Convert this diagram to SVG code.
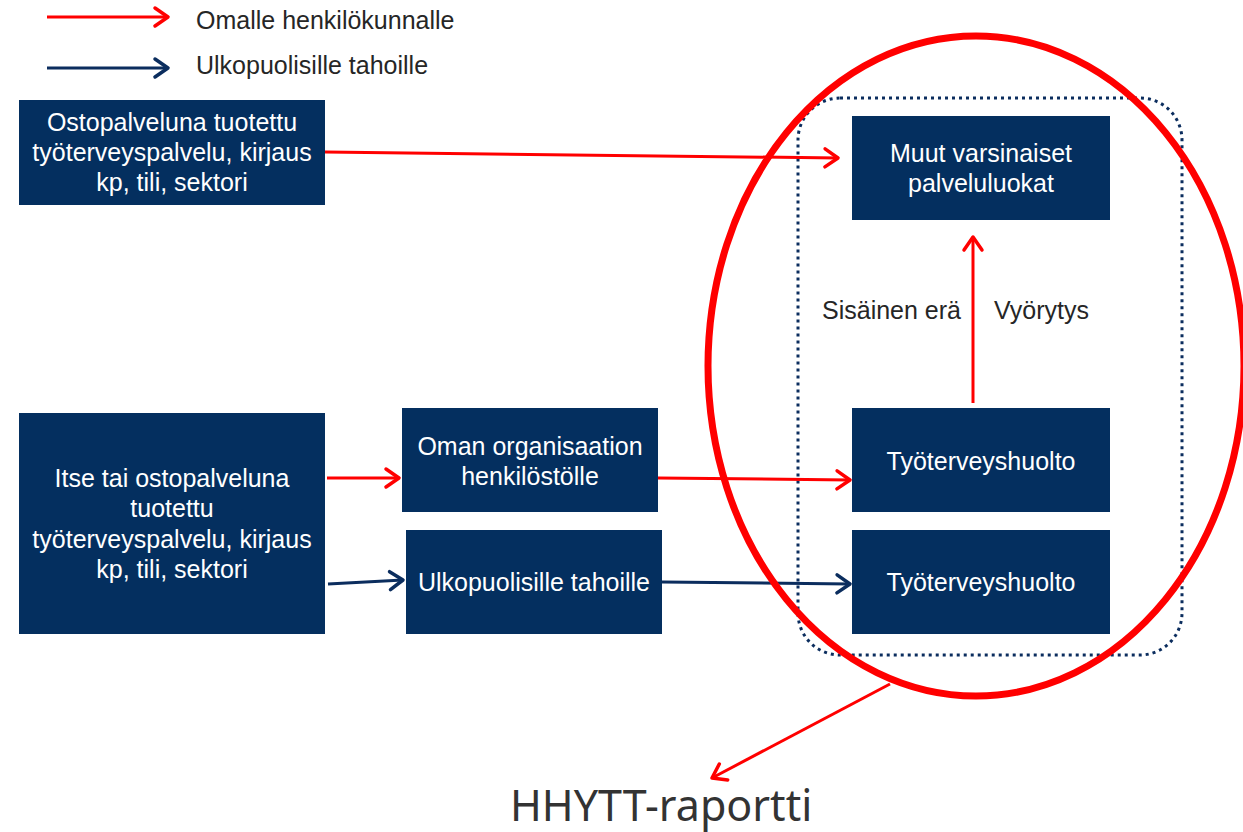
<svg xmlns="http://www.w3.org/2000/svg" width="1243" height="832" viewBox="0 0 1243 832">
<defs>
<style>
.box{fill:#042f5f;}
.bt{fill:#ffffff;font-family:"Liberation Sans",Arial,sans-serif;font-size:25px;text-anchor:middle;}
.lt{fill:#262626;font-family:"Liberation Sans",Arial,sans-serif;font-size:25px;}
.red{stroke:#ff0000;stroke-width:3;fill:none;}
.blue{stroke:#0b2d5e;stroke-width:3;fill:none;}
</style>
<marker id="ar" markerUnits="userSpaceOnUse" markerWidth="20" markerHeight="24" viewBox="-16 -12 20 24" refX="0" refY="0" orient="auto">
<path d="M-13,-9 L0,0 L-13,9" fill="none" stroke="#ff0000" stroke-width="3.5" stroke-linecap="round" stroke-linejoin="round"/>
</marker>
<marker id="ab" markerUnits="userSpaceOnUse" markerWidth="20" markerHeight="24" viewBox="-16 -12 20 24" refX="0" refY="0" orient="auto">
<path d="M-13,-9 L0,0 L-13,9" fill="none" stroke="#0b2d5e" stroke-width="3.5" stroke-linecap="round" stroke-linejoin="round"/>
</marker>
</defs>
<rect width="1243" height="832" fill="#ffffff"/>

<g id="legend">
<line class="red" x1="47" y1="17" x2="168" y2="17" marker-end="url(#ar)"/>
<text class="lt" x="196" y="29">Omalle henkilökunnalle</text>
<line class="blue" x1="47" y1="68" x2="168" y2="68" marker-end="url(#ab)"/>
<text class="lt" x="196" y="74">Ulkopuolisille tahoille</text>
</g>

<g id="group-frame">
<rect x="798" y="98" width="384" height="557" rx="42" fill="none" stroke="#0b2d5e" stroke-width="3" stroke-dasharray="3 4"/>
</g>

<g id="node-ostopalvelu">
<rect class="box" x="19" y="100" width="306" height="105"/>
<text class="bt" x="172" y="131">Ostopalveluna tuotettu</text>
<text class="bt" x="172" y="161">työterveyspalvelu, kirjaus</text>
<text class="bt" x="172" y="191">kp, tili, sektori</text>
</g>

<g id="node-itse">
<rect class="box" x="19" y="413" width="306" height="221"/>
<text class="bt" x="172" y="487">Itse tai ostopalveluna</text>
<text class="bt" x="172" y="517">tuotettu</text>
<text class="bt" x="172" y="548">työterveyspalvelu, kirjaus</text>
<text class="bt" x="172" y="578">kp, tili, sektori</text>
</g>

<g id="node-oman">
<rect class="box" x="402" y="408" width="256" height="104"/>
<text class="bt" x="530" y="455">Oman organisaation</text>
<text class="bt" x="530" y="485">henkilöstölle</text>
</g>

<g id="node-ulkop">
<rect class="box" x="406" y="530" width="256" height="104"/>
<text class="bt" x="534" y="591">Ulkopuolisille tahoille</text>
</g>

<g id="node-muut">
<rect class="box" x="852" y="116" width="258" height="104"/>
<text class="bt" x="981" y="162">Muut varsinaiset</text>
<text class="bt" x="981" y="192">palveluluokat</text>
</g>

<g id="node-tyo1">
<rect class="box" x="852" y="408" width="258" height="104"/>
<text class="bt" x="981" y="470">Työterveyshuolto</text>
</g>

<g id="node-tyo2">
<rect class="box" x="852" y="530" width="258" height="104"/>
<text class="bt" x="981" y="591">Työterveyshuolto</text>
</g>

<g id="connectors">
<line class="red" x1="325" y1="152" x2="838" y2="158" marker-end="url(#ar)"/>
<line class="red" x1="327" y1="478" x2="399" y2="478" marker-end="url(#ar)"/>
<line class="red" x1="658" y1="478" x2="850" y2="480" marker-end="url(#ar)"/>
<line class="blue" x1="328" y1="584" x2="403" y2="580" marker-end="url(#ab)"/>
<line class="blue" x1="662" y1="582" x2="850" y2="584" marker-end="url(#ab)"/>
<line class="red" x1="973" y1="403" x2="973" y2="237" marker-end="url(#ar)"/>
<text class="lt" x="822" y="319">Sisäinen erä</text>
<text class="lt" x="994" y="319">Vyörytys</text>
<line class="red" x1="890" y1="684" x2="712" y2="778" marker-end="url(#ar)"/>
</g>

<g id="highlight">
<ellipse cx="976" cy="366" rx="268" ry="330" fill="none" stroke="#ff0000" stroke-width="7"/>
</g>

<g id="node-hhytt">
<text x="510" y="821" fill="#333333" font-family="'Noto Sans','Open Sans',sans-serif" font-size="43">HHYTT-raportti</text>
</g>
</svg>
